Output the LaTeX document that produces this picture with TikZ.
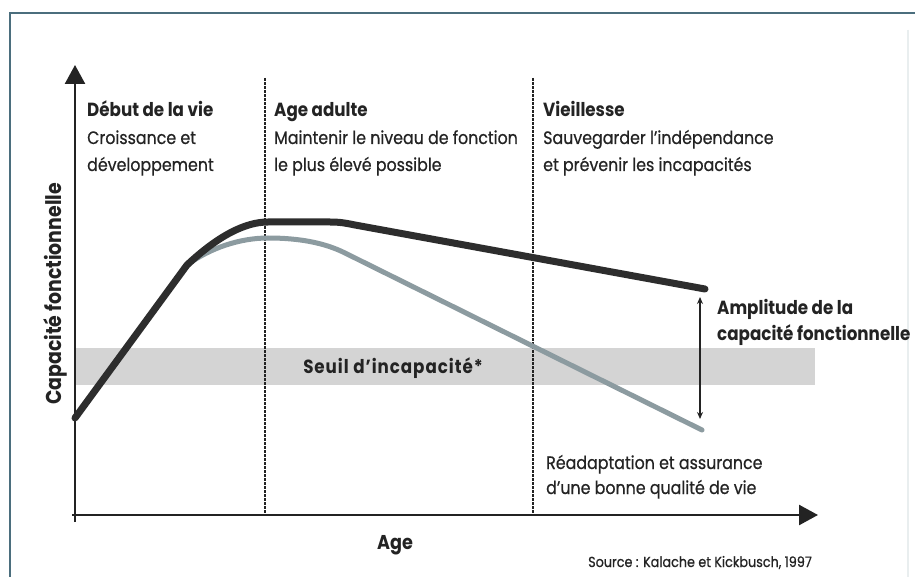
\documentclass[tikz,border=0pt]{standalone}
\usepackage{fontspec}
\setmainfont{Poppins}[FakeStretch=0.88]
\newfontfamily\regfont{Poppins}[FakeStretch=0.88,FakeBold=0.6]
\usetikzlibrary{arrows.meta}
\definecolor{ink}{RGB}{35,35,35}
\definecolor{curveA}{RGB}{45,45,45}
\definecolor{curveB}{RGB}{140,155,160}
\definecolor{bandgray}{RGB}{212,212,212}
\definecolor{framecol}{RGB}{75,110,125}
\tikzset{
  lbl/.style={anchor=base west, inner sep=0pt, text=ink, font=\regfont\fontsize{18}{21}\selectfont},
  lblb/.style={lbl, font=\fontsize{19}{22}\selectfont\bfseries},
  axis/.style={line width=2.5pt, draw=ink, -{Triangle[length=19pt,width=20pt]}},
  divider/.style={line width=2.4pt, draw=ink, dash pattern=on 3pt off 1pt},
  mainline/.style={line width=7pt, draw=curveA, line cap=round, line join=round},
  lowline/.style={line width=5pt, draw=curveB, line cap=round, line join=round},
}
\begin{document}
\begin{tikzpicture}[x=1pt,y=-1pt]
\useasboundingbox (0,0) rectangle (915,577);
\fill[white] (0,0) rectangle (915,577);
% frame
\draw[framecol, line width=2.5pt] (10,577) -- (10,13) -- (915,13);
\draw[framecol!12, line width=1.5pt] (908,30) -- (908,577);
% band
\fill[bandgray] (75,348) rectangle (815,385);
\node[lblb, anchor=base, font=\fontsize{19}{22}\selectfont\bfseries\addfontfeature{LetterSpace=5}] (seuil) at (393,373) {Seuil d’incapacité*};
% coordinates
\coordinate (o) at (75,515);
\coordinate (ytop) at (75,65);
\coordinate (ybot) at (75,522);
\coordinate (xend) at (818,515);
\coordinate (xstart) at (72,515);
\coordinate (d1t) at (265,78);
\coordinate (d1b) at (265,515);
\coordinate (d2t) at (533,78);
\coordinate (d2b) at (533,515);
% dividers
\draw[divider] (d1t) -- (d1b);
\draw[divider] (d2t) -- (d2b);
% axes
\draw[axis] (ybot) -- (ytop);
\draw[axis] (xstart) -- (xend);
% curves
\coordinate (c0) at (75,418);
\coordinate (k) at (187,265);
\coordinate (p1) at (268,222);
\coordinate (p2) at (330,222);
\coordinate (p3) at (355,225);
\coordinate (cend) at (705,289);
\coordinate (g1) at (268,238);
\coordinate (g2) at (345,253);
\coordinate (gend) at (702,430);
\draw[lowline] (k) .. controls (210,248) and (240,238) .. (g1)
  .. controls (300,238) and (325,243) .. (g2) -- (gend);
\draw[mainline] (c0) -- (k) .. controls (218,236) and (245,222) .. (p1)
  -- (p2) .. controls (340,222) and (345,223) .. (p3) -- (cend);
% amplitude arrow
\coordinate (at) at (700,297);
\coordinate (ab) at (700,419);
\draw[ink, line width=1.5pt, {Stealth[length=7pt,width=6pt]}-{Stealth[length=7pt,width=6pt]}] (at) -- (ab);
% texts
\node[lblb] (t1a) at (87,117) {Début de la vie};
\node[lbl] (t1b) at (87,144) {Croissance et};
\node[lbl] (t1c) at (87,171) {développement};
\node[lblb] (t2a) at (274,117) {Age adulte};
\node[lbl] (t2b) at (274,144) {Maintenir le niveau de fonction};
\node[lbl] (t2c) at (274,171) {le plus élevé possible};
\node[lblb] (t3a) at (543,117) {Vieillesse};
\node[lbl] (t3b) at (543,144) {Sauvegarder l’indépendance};
\node[lbl] (t3c) at (543,171) {et prévenir les incapacités};
\node[lblb] (ampa) at (717,314) {Amplitude de la};
\node[lblb] (ampb) at (717,340) {capacité fonctionnelle};
\node[lbl] (rea) at (546,469) {Réadaptation et assurance};
\node[lbl] (reb) at (546,494) {d’une bonne qualité de vie};
\node[lblb, anchor=base, font=\fontsize{20}{23}\selectfont\bfseries] (age) at (395,549) {Age};
\node[lblb, anchor=center, rotate=90, font=\fontsize{21.5}{24}\selectfont\bfseries] (ylab) at (55,294) {Capacité fonctionnelle};
\node[lbl, font=\regfont\fontsize{14.5}{17}\selectfont] (src) at (588,567) {Source : Kalache et Kickbusch, 1997};
\end{tikzpicture}
\end{document}
